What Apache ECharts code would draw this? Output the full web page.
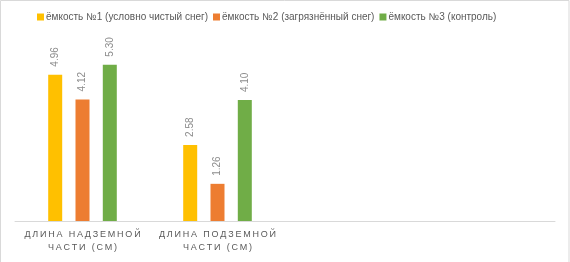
<!DOCTYPE html>
<html>
<head>
<meta charset="utf-8">
<script src="https://cdn.jsdelivr.net/npm/echarts@6/dist/echarts.min.js"></script>
<style>
  html, body { margin: 0; padding: 0; background: #fff; }
  #chart { width: 570px; height: 262px; }
</style>
</head>
<body>
<div id="chart"></div>
<script>
var categories = ['ДЛИНА НАДЗЕМНОЙ\nЧАСТИ (СМ)', 'ДЛИНА ПОДЗЕМНОЙ\nЧАСТИ (СМ)', '', ''];
var seriesNames = ['ёмкость №1 (условно чистый снег)', 'ёмкость №2 (загрязнённый снег)', 'ёмкость №3 (контроль)'];
var tank1 = [4.96, 2.58];
var tank2 = [4.12, 1.26];
var tank3 = [5.30, 4.10];
var colors = ['#FFC000', '#ED7D31', '#70AD47'];

// excel-style letter spacing on the category labels
function spaced(s) {
    return s.split('\n').map(function (line) {
        return line.split('').join('\u2009');
    }).join('\n');
}

function makeSeries(name, data) {
    return {
        name: name,
        type: 'bar',
        data: data,
        barWidth: 14,
        barGap: '95%',
        label: {
            show: true,
            position: 'top',
            rotate: 90,
            align: 'left',
            verticalAlign: 'middle',
            distance: 8,
            color: '#8c8c8c',
            fontSize: 10,
            fontFamily: 'Liberation Sans',
            formatter: function (p) { return p.value.toFixed(2); }
        }
    };
}

var myChart = echarts.init(document.getElementById('chart'));
var option = {
    color: colors,
    animation: false,
    graphic: [{
        type: 'rect',
        shape: { x: 0.5, y: 0.5, width: 568.5, height: 280 },
        style: { fill: 'none', stroke: '#d9d9d9', lineWidth: 1 },
        silent: true
    }],
    legend: {
        top: 7,
        left: 32,
        itemWidth: 7,
        itemHeight: 7,
        itemGap: 5,
        icon: 'rect',
        textStyle: { color: '#595959', fontSize: 10, fontFamily: 'Liberation Sans', padding: [0, 0, 0, -3] },
        data: seriesNames
    },
    grid: { left: 15, right: 15, top: 44, bottom: 41, containLabel: false },
    xAxis: {
        type: 'category',
        data: categories,
        axisLine: { lineStyle: { color: '#d9d9d9' } },
        axisTick: { show: false },
        axisLabel: {
            color: '#595959',
            fontSize: 9,
            fontFamily: 'Liberation Sans',
            lineHeight: 13,
            margin: 7,
            interval: 0,
            formatter: function (v) { return spaced(v); }
        }
    },
    yAxis: {
        type: 'value',
        min: 0,
        max: 6,
        show: false,
        splitLine: { show: false }
    },
    series: [
        makeSeries(seriesNames[0], tank1),
        makeSeries(seriesNames[1], tank2),
        makeSeries(seriesNames[2], tank3)
    ]
};
myChart.setOption(option);
</script>
</body>
</html>
